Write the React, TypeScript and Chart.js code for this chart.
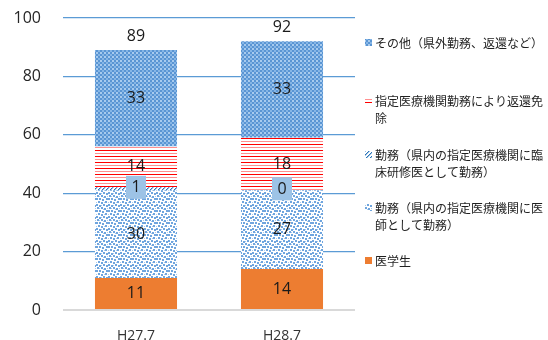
import React, { useEffect, useRef } from 'react';
import { Chart, registerables } from 'chart.js';

Chart.register(...registerables);

const categories = ['H27.7', 'H28.7'];
const igakusei = [11, 14];
const ishiKinmu = [30, 27];
const rinshoKinmu = [1, 0];
const henkanMenjo = [14, 18];
const sonota = [33, 33];
const totals = [89, 92];

const labelIgakusei = ['医学生'];
const labelIshi = ['勤務（県内の指定医療機関に医', '師として勤務）'];
const labelRinsho = ['勤務（県内の指定医療機関に臨', '床研修医として勤務）'];
const labelMenjo = ['指定医療機関勤務により返還免', '除'];
const labelSonota = ['その他（県外勤務、返還など）'];

const FONT = '"Open Sans", "Noto Sans", sans-serif';
const CJK = '"Noto Sans CJK JP", "Noto Sans", sans-serif';

function makePattern(size: number, draw: (c: CanvasRenderingContext2D) => void): CanvasPattern | string {
  const cv = document.createElement('canvas');
  cv.width = size;
  cv.height = size;
  const c = cv.getContext('2d');
  if (!c) return '#5B9BD5';
  draw(c);
  const p = c.createPattern(cv, 'repeat');
  return p || '#5B9BD5';
}

export default function App() {
  const ref = useRef<HTMLCanvasElement | null>(null);

  useEffect(() => {
    document.body.style.margin = '0';
    const canvas = ref.current;
    if (!canvas) return;

    const bluePattern = makePattern(4, (c) => {
      c.fillStyle = '#5A95D3';
      c.fillRect(0, 0, 4, 4);
      c.fillStyle = '#A8CBEE';
      c.fillRect(0, 0, 2, 2);
      c.fillStyle = '#86B6E6';
      c.fillRect(2, 2, 2, 2);
    });
    const redPattern = makePattern(6, (c) => {
      c.fillStyle = '#FFFFFF';
      c.fillRect(0, 0, 6, 6);
      c.fillStyle = '#FF0000';
      c.fillRect(0, 0, 6, 1);
      c.fillStyle = '#FF9090';
      c.fillRect(0, 3, 6, 1);
    });
    const dotPattern = makePattern(12, (c) => {
      c.fillStyle = '#FFFFFF';
      c.fillRect(0, 0, 12, 12);
      c.fillStyle = '#6FA5DE';
      const pts = [
        [0, 0], [3, 1], [7, 0], [10, 1], [1, 3], [5, 3], [8, 4],
        [0, 6], [3, 6], [6, 7], [10, 6], [2, 9], [5, 10], [9, 9],
      ];
      pts.forEach(([x, y]) => c.fillRect(x, y, 2, 2));
      c.fillStyle = '#A9CBEE';
      const pts2 = [[5, 1], [11, 4], [8, 10], [0, 10], [7, 5], [3, 4]];
      pts2.forEach(([x, y]) => c.fillRect(x, y, 1, 1));
    });
    const diagPattern = makePattern(4, (c) => {
      c.fillStyle = '#FFFFFF';
      c.fillRect(0, 0, 4, 4);
      c.fillStyle = '#2E75B6';
      for (let i = 0; i < 4; i++) c.fillRect(3 - i, i, 1, 1);
      c.fillStyle = '#9DC3E6';
      for (let i = 0; i < 4; i++) c.fillRect((4 - i) % 4, i, 1, 1);
    });

    const datasets = [
      { label: labelIgakusei, data: igakusei, backgroundColor: '#ED7D31' },
      { label: labelIshi, data: ishiKinmu, backgroundColor: dotPattern },
      { label: labelRinsho, data: rinshoKinmu, backgroundColor: diagPattern },
      { label: labelMenjo, data: henkanMenjo, backgroundColor: redPattern },
      { label: labelSonota, data: sonota, backgroundColor: bluePattern },
    ];

    const labelsPlugin = {
      id: 'segLabels',
      afterDatasetsDraw(chart: any) {
        const ctx = chart.ctx;
        ctx.save();
        ctx.font = `16px ${FONT}`;
        ctx.textAlign = 'center';
        ctx.textBaseline = 'middle';
        chart.data.datasets.forEach((ds: any, di: number) => {
          const meta = chart.getDatasetMeta(di);
          meta.data.forEach((el: any, i: number) => {
            const v = ds.data[i];
            const cy = (el.y + el.base) / 2;
            if (di === 2) {
              ctx.fillStyle = '#9DC3E6';
              ctx.fillRect(el.x - 10, cy - 13, 20, 23);
            }
            ctx.fillStyle = '#1A1A1A';
            ctx.fillText(String(v), el.x, di === 2 ? cy - 1 : cy);
          });
        });
        const topMeta = chart.getDatasetMeta(chart.data.datasets.length - 1);
        topMeta.data.forEach((el: any, i: number) => {
          ctx.fillStyle = '#1A1A1A';
          ctx.fillText(String(totals[i]), el.x, el.y - 14);
        });
        ctx.restore();
      },
    };

    const legendYs = [43, 101, 155, 208, 261];
    const legendPlugin = {
      id: 'sideLegend',
      afterDraw(chart: any) {
        const ctx = chart.ctx;
        ctx.save();
        ctx.font = `12px ${CJK}`;
        ctx.textAlign = 'left';
        ctx.textBaseline = 'middle';
        const order = [4, 3, 2, 1, 0];
        order.forEach((di, k) => {
          const ds = chart.data.datasets[di];
          const y = legendYs[k];
          ctx.fillStyle = ds.backgroundColor;
          ctx.fillRect(365, y - 4, 7, 7);
          ctx.fillStyle = '#1F1F1F';
          (ds.label as string[]).forEach((line: string, li: number) => {
            ctx.fillText(line, 375, y + li * 17);
          });
        });
        ctx.restore();
      },
    };

    const chart = new Chart(canvas, {
      type: 'bar',
      data: { labels: categories, datasets: datasets as any },
      options: {
        responsive: false,
        animation: false,
        layout: { padding: { left: 0, right: 193, top: 18, bottom: 0 } },
        plugins: { legend: { display: false }, tooltip: { enabled: false } },
        datasets: { bar: { categoryPercentage: 1, barPercentage: 0.562 } },
        scales: {
          x: {
            stacked: true,
            grid: { display: false },
            border: { display: false },
            ticks: { font: { family: FONT, size: 14 }, color: '#333333', padding: 10 },
            afterFit: (s: any) => { s.height = 30; },
          },
          y: {
            stacked: true,
            min: 0,
            max: 100,
            ticks: { stepSize: 20, font: { family: FONT, size: 16 }, color: '#262626', padding: 0 },
            border: { display: false },
            grid: {
              drawTicks: true,
              tickLength: 22,
              tickColor: 'rgba(0,0,0,0)',
              color: (c: any) => (c.tick && c.tick.value === 0 ? '#D9D9D9' : '#5B9BD5'),
              lineWidth: (c: any) => (c.tick && c.tick.value === 0 ? 2 : 1.2),
            },
            afterFit: (s: any) => { s.width = 63; },
          },
        },
      },
      plugins: [labelsPlugin, legendPlugin],
    });
    return () => chart.destroy();
  }, []);

  return <canvas ref={ref} width={548} height={340} style={{ display: 'block' }} />;
}
